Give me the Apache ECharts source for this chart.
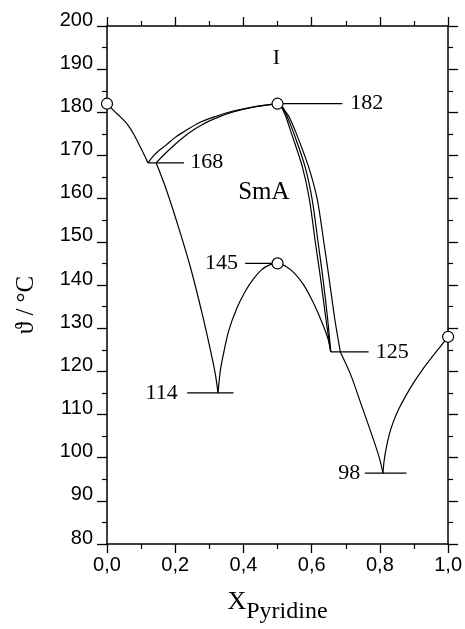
<!DOCTYPE html>
<html>
<head>
<meta charset="utf-8">
<script src="https://cdn.jsdelivr.net/npm/echarts@6/dist/echarts.min.js"></script>
<style>
html,body{margin:0;padding:0;background:#fff;}
#chart{width:465px;height:629px;}
</style>
</head>
<body>
<div id="chart"></div>
<script>
// ---- axis ticks ----
const xTickValues = [0, 0.2, 0.4, 0.6, 0.8, 1.0];
const xTickLabels = ['0,0', '0,2', '0,4', '0,6', '0,8', '1,0'];
const yTickLabels = ['80','90','100','110','120','130','140','150','160','170','180','190','200'];

// ---- phase boundary curves [x_pyridine, temperature] ----
const leftLiquidus = [[0,182],[0.02,180.4],[0.04,178.9],[0.06,177.2],[0.08,174.7],[0.10,171.6],[0.12,168.3]];
const upperOuter = [[0.12,168.3],[0.135,169.8],[0.15,171],[0.173,172.4],[0.2,174.2],[0.221,175.3],[0.27,177.6],[0.32,179.1],[0.37,180.3],[0.43,181.3],[0.5,182]];
const upperInner = [[0.144,168.3],[0.17,170.4],[0.2,172.6],[0.24,175.2],[0.28,177.2],[0.33,179],[0.37,180.1],[0.43,181.2],[0.5,182]];
const branch114Left = [[0.144,168.3],[0.173,162.3],[0.21,153.3],[0.245,144],[0.28,133],[0.308,123.2],[0.318,119.2],[0.3255,115]];
const branch145Left = [[0.3255,115],[0.332,120],[0.34,123.5],[0.3565,129.3],[0.38,134.5],[0.405,138.5],[0.43,141.5],[0.453,143.5],[0.475,144.6],[0.5,145]];
const branch145Right = [[0.5,145],[0.525,144.3],[0.55,142.7],[0.575,140.2],[0.598,137],[0.62,133.3],[0.637,130],[0.648,127.5],[0.656,124.5]];
const smaCurveA = [[0.5,182],[0.508,181.6],[0.516,180.5],[0.524,179.1],[0.54,175.3],[0.572,167.6],[0.593,160],[0.612,149.2],[0.626,141.6],[0.642,132],[0.656,124.5]];
const smaCurveB = [[0.5,182],[0.51,181.6],[0.519,180.4],[0.528,179.1],[0.547,175.3],[0.58,167.6],[0.601,160],[0.62,149.2],[0.633,141.6],[0.647,132],[0.656,124.5]];
const smaCurveC = [[0.5,182],[0.512,181.5],[0.522,180.3],[0.533,179.1],[0.554,175.3],[0.59,167.6],[0.616,160],[0.637,149.2],[0.651,141.6],[0.668,132],[0.684,124.5]];
const branch98Left = [[0.684,124.5],[0.714,119.3],[0.748,111.7],[0.782,104],[0.8,99.5],[0.809,96.4]];
const branch98Right = [[0.809,96.4],[0.812,99],[0.818,102],[0.828,105.5],[0.84,108.4],[0.855,111.2],[0.875,114.2],[0.9,117.5],[0.925,120.4],[0.95,123],[0.975,125.5],[1.0,128]];

// ---- horizontal tie lines ----
const tie168 = [[0.12,168.3],[0.226,168.3]];
const tie182 = [[0.5,182],[0.69,182]];
const tie145 = [[0.405,145],[0.5,145]];
const tie114 = [[0.235,115],[0.371,115]];
const tie125 = [[0.656,124.5],[0.767,124.5]];
const tie98  = [[0.756,96.4],[0.878,96.4]];

// ---- measured points (open circles) ----
const circlePoints = [[0,182],[0.5,182],[0.5,145],[1,128]];

// ---- annotations ----
const annoText = ['I','SmA','168','182','145','114','125','98'];
const annoX    = [0.4966, 0.46, 0.2426, 0.712, 0.3855, 0.2087, 0.7866, 0.744];
const annoY    = [192.6, 161.5, 168.4, 182, 145, 115, 124.5, 96.4];
const annoAlign = ['center','center','left','left','right','right','left','right'];

const chart = echarts.init(document.getElementById('chart'), null, {renderer:'canvas'});

const sans = '"Liberation Sans", Arial, sans-serif';
const serif = '"Liberation Serif", "Times New Roman", "DejaVu Serif", serif';

function curve(data) {
  return {type:'line', data:data, showSymbol:false, symbol:'none',
    smooth:0.3, lineStyle:{color:'#000', width:1.2}, z:2, silent:true};
}
function tie(data) {
  return {type:'line', data:data, showSymbol:false, symbol:'none',
    lineStyle:{color:'#000', width:1.3}, z:2, silent:true};
}

const axisCommonX = {
  type:'value', min:0, max:1, interval:0.2,
  axisLine:{show:true, onZero:false, lineStyle:{color:'#000', width:1.5}},
  axisTick:{show:true, inside:false, length:9, lineStyle:{color:'#000', width:1.3}},
  minorTick:{show:true, splitNumber:2, length:5, lineStyle:{color:'#000', width:1.2}},
  splitLine:{show:false}, minorSplitLine:{show:false}
};
const axisCommonY = {
  type:'value', min:80, max:200, interval:10,
  axisLine:{show:true, onZero:false, lineStyle:{color:'#000', width:1.5}},
  axisTick:{show:true, inside:false, length:10, lineStyle:{color:'#000', width:1.3}},
  minorTick:{show:true, splitNumber:2, length:5, lineStyle:{color:'#000', width:1.2}},
  splitLine:{show:false}, minorSplitLine:{show:false}
};

const annoData = annoText.map((t,i)=>({
  value:[annoX[i], annoY[i]], name:t,
  label:{
    show:true, formatter:t, color:'#000', fontFamily:serif,
    fontSize: t==='SmA' ? 25 : 22,
    position: annoAlign[i]==='left' ? 'right' : (annoAlign[i]==='right' ? 'left' : 'inside'),
    distance:0
  }
}));

const option = {
  backgroundColor:'#fff',
  animation:false,
  grid:{left:107, right:13, top:26, bottom:81, containLabel:false},
  xAxis:[
    Object.assign({}, axisCommonX, {
      position:'bottom',
      axisLabel:{show:true, margin:11, color:'#000', fontSize:20, fontFamily:sans,
        formatter:function(v){ const k = xTickValues.findIndex(t=>Math.abs(t-v)<1e-6); return k>=0 ? xTickLabels[k] : ''; }},
      name:'{x|X}{s|Pyridine}', nameLocation:'middle', nameGap:44,
      nameTextStyle:{color:'#000', fontFamily:serif,
        rich:{x:{fontSize:26, fontFamily:serif, color:'#000', padding:[0,0,8,0]},
              s:{fontSize:24, fontFamily:serif, color:'#000', padding:[12,0,0,0]}}}
    }),
    Object.assign({}, axisCommonX, {position:'top', axisLabel:{show:false}})
  ],
  yAxis:[
    Object.assign({}, axisCommonY, {
      position:'left',
      axisLabel:{show:true, margin:14, color:'#000', fontSize:20, fontFamily:sans,
        verticalAlign:'bottom', lineHeight:12,
        formatter:function(v){ const k = Math.round((v-80)/10); return yTickLabels[k] || ''; }},
      name:'\u03D1 / \u00B0C', nameLocation:'middle', nameGap:68, nameRotate:90,
      nameTextStyle:{color:'#000', fontFamily:serif, fontSize:25, padding:[0,40,0,0]}
    }),
    Object.assign({}, axisCommonY, {position:'right', axisLabel:{show:false}})
  ],
  series:[
    curve(leftLiquidus), curve(upperOuter), curve(upperInner),
    curve(branch114Left), curve(branch145Left), curve(branch145Right),
    curve(smaCurveA), curve(smaCurveB), curve(smaCurveC),
    curve(branch98Left), curve(branch98Right),
    tie(tie168), tie(tie182), tie(tie145), tie(tie114), tie(tie125), tie(tie98),
    {type:'scatter', data:circlePoints, symbol:'circle', symbolSize:11,
      itemStyle:{color:'#fff', borderColor:'#000', borderWidth:1.2, opacity:1}, z:5, silent:true},
    {type:'scatter', data:annoData, symbolSize:1, itemStyle:{color:'rgba(0,0,0,0)', opacity:1}, z:6, silent:true}
  ]
};
chart.setOption(option);
</script>
</body>
</html>
